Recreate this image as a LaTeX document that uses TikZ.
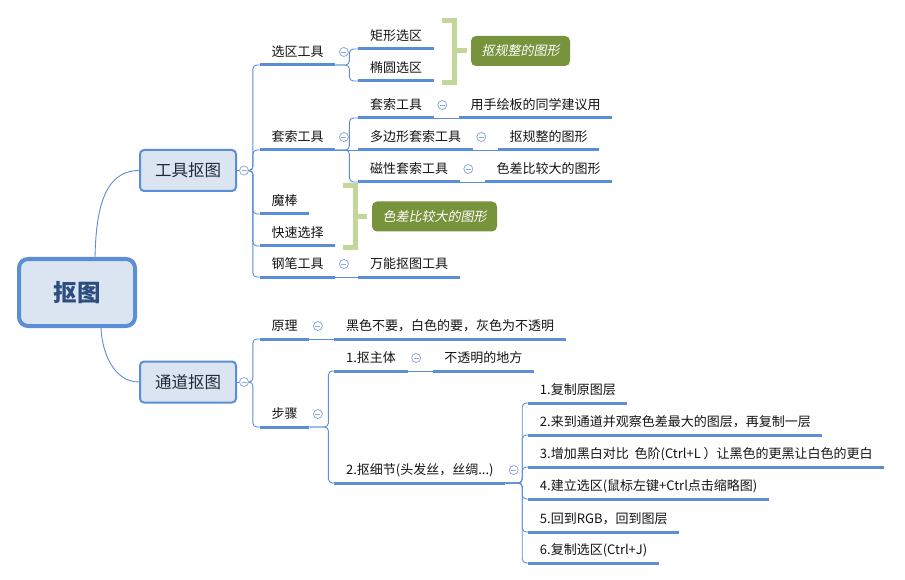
\documentclass[tikz,border=0pt]{standalone}
\usepackage{fontspec}
\setmainfont{Noto Sans CJK SC}
\newfontfamily\slantcjk[FakeSlant=0.2]{Noto Sans CJK SC}
\usetikzlibrary{positioning}

\definecolor{lineblue}{HTML}{5B8ED6}
\definecolor{boxfill}{HTML}{DBE5F1}
\definecolor{foldblue}{HTML}{8FAADC}
\definecolor{bracegreen}{HTML}{C4D79B}
\definecolor{labelgreen}{HTML}{77933C}
\definecolor{roottext}{HTML}{2C4D7F}
\definecolor{maintext}{HTML}{1F2A3C}
\definecolor{topictext}{HTML}{141414}

\begin{document}
\begin{tikzpicture}[
    x=1pt, y=-1pt, % pixel-like units, y grows downwards
    rootbox/.style={draw=lineblue, line width=4pt, fill=boxfill, rounded corners=9pt,
        minimum width=116pt, minimum height=67pt, text=roottext,
        font=\fontsize{23.5pt}{28pt}\selectfont\bfseries},
    mainbox/.style={draw=lineblue, line width=2pt, fill=boxfill, rounded corners=4pt,
        minimum width=96pt, minimum height=41pt, text=maintext,
        font=\fontsize{16.5pt}{20pt}\selectfont},
    topic/.style={anchor=south west, inner xsep=11.5pt, inner ysep=5pt,
        text height=11pt, text depth=3pt, text=topictext,
        font=\fontsize{13pt}{15pt}\selectfont},
    summary/.style={fill=labelgreen, rounded corners=5pt, minimum height=30pt,
        text=white, font=\fontsize{13pt}{15pt}\slantcjk},
    fold/.style={circle, draw=foldblue, line width=0.8pt, fill=white, minimum size=9pt,
        inner sep=0pt, path picture={\draw[foldblue, line width=0.8pt]
        ([xshift=-2.5pt]path picture bounding box.center) --
        ([xshift=2.5pt]path picture bounding box.center);}},
    uline/.style={draw=lineblue, line width=3pt},
    branch/.style={draw=lineblue, line width=0.9pt, rounded corners=4pt},
    brace/.style={draw=bracegreen, line width=5pt},
]

% Canvas
\path[fill=white] (0,0) rectangle (905,580);

% Collapse mark next to a topic
\newcommand{\foldmark}[1]{\node[fold] (#1fold) at ([xshift=8.5pt,yshift=13pt]#1.south east) {};}

% Central topic and the two main branches
\node[rootbox] (root) at (77,292.5) {抠图};
\node[mainbox] (tools) at (188,170.5) {工具抠图};
\node[mainbox] (channels) at (188,382) {通道抠图};

% Tools branch
\node[topic] (selection) at (260,65) {选区工具};
\node[topic] (lasso) at (260,150) {套索工具};
\node[topic] (wand) at (260,214) {魔棒};
\node[topic] (quicksel) at (260,246) {快速选择};
\node[topic] (pen) at (260,277) {钢笔工具};

\node[topic, right=23pt of selection, yshift=16pt] (rect) {矩形选区};
\node[topic, right=23pt of selection, yshift=-16pt] (ellipse) {椭圆选区};
\node[topic, right=23pt of lasso, yshift=32pt] (freelasso) {套索工具};
\node[topic, right=23pt of lasso] (polylasso) {多边形套索工具};
\node[topic, right=23pt of lasso, yshift=-32pt] (maglasso) {磁性套索工具};
\node[topic, right=23pt of pen] (allround) {万能抠图工具};

\node[topic, right=25pt of freelasso] (tablet) {用手绘板的同学建议用};
\node[topic, right=25pt of polylasso] (regular) {抠规整的图形};
\node[topic, right=25pt of maglasso] (contrast) {色差比较大的图形};

% Channels branch
\node[topic] (principle) at (260,339) {原理};
\node[topic] (steps) at (260,427) {步骤};

\node[topic, right=25pt of principle] (bwgray) {黑色不要，白色的要，灰色为不透明};
\node[topic, right=25pt of steps, yshift=56pt] (mainbody) {1.抠主体};
\node[topic, right=25pt of steps, yshift=-56pt] (details) {2.抠细节(头发丝，丝绸...)};
\node[topic, right=25pt of mainbody] (opaque) {不透明的地方};

\node[topic, right=23pt of details, yshift=80pt] (stepone) {1.复制原图层};
\node[topic, right=23pt of details, yshift=48pt] (steptwo) {2.来到通道并观察色差最大的图层，再复制一层};
\node[topic, right=23pt of details, yshift=16pt] (stepthree) {3.增加黑白对比\ \ 色阶(Ctrl+L ）让黑色的更黑让白色的更白};
\node[topic, right=23pt of details, yshift=-16pt] (stepfour) {4.建立选区(鼠标左键+Ctrl点击缩略图)};
\node[topic, right=23pt of details, yshift=-49pt] (stepfive) {5.回到RGB，回到图层};
\node[topic, right=23pt of details, yshift=-80pt] (stepsix) {6.复制选区(Ctrl+J)};

% Underlines of the topics
\foreach \n in {selection, lasso, wand, quicksel, pen, rect, ellipse, freelasso,
    polylasso, maglasso, allround, tablet, regular, contrast, principle, steps,
    bwgray, mainbody, details, opaque, stepone, steptwo, stepthree, stepfour,
    stepfive, stepsix}
    \draw[uline] (\n.south west) -- (\n.south east);

% Collapse marks
\node[fold] (toolsfold) at ([xshift=7pt]tools.east) {};
\node[fold] (channelsfold) at ([xshift=7pt]channels.east) {};
\foldmark{selection}
\foldmark{lasso}
\foldmark{pen}
\foldmark{freelasso}
\foldmark{polylasso}
\foldmark{maglasso}
\foldmark{principle}
\foldmark{steps}
\foldmark{mainbody}
\foldmark{details}

% Connections from the central topic
\draw[branch] ([xshift=18pt]root.north) .. controls +(1,-42) and +(-37,0) .. (tools.west);
\draw[branch] ([xshift=24pt]root.south) .. controls +(1,25) and +(-25,0) .. (channels.west);

% Forks
\coordinate[right=4pt of toolsfold] (toolsjoint);
\coordinate[right=4pt of channelsfold] (channelsjoint);
\coordinate[right=14pt of selection.south east] (selectionjoint);
\coordinate[right=14pt of lasso.south east] (lassojoint);
\coordinate[right=19pt of steps.south east] (stepsjoint);
\coordinate[right=17pt of details.south east] (detailsjoint);

\draw[branch] (tools.east) -- (toolsfold);
\foreach \kid in {selection, lasso, wand, quicksel, pen}
    \draw[branch] (toolsfold) -- (toolsjoint) |- (\kid.south west);

\draw[branch] (channels.east) -- (channelsfold);
\foreach \kid in {principle, steps}
    \draw[branch] (channelsfold) -- (channelsjoint) |- (\kid.south west);

\foreach \kid in {rect, ellipse}
    \draw[branch] (selection.south east) -- (selectionjoint) |- (\kid.south west);

\foreach \kid in {freelasso, maglasso}
    \draw[branch] (lasso.south east) -- (lassojoint) |- (\kid.south west);
\draw[branch] (lasso.south east) -- (polylasso.south west);

\foreach \kid in {mainbody, details}
    \draw[branch] (steps.south east) -- (stepsjoint) |- (\kid.south west);

\foreach \kid in {stepone, steptwo, stepthree, stepfour, stepfive, stepsix}
    \draw[branch] (details.south east) -- (detailsjoint) |- (\kid.south west);

% Single children
\draw[branch] (pen.south east) -- (allround.south west);
\draw[branch] (freelasso.south east) -- (tablet.south west);
\draw[branch] (polylasso.south east) -- (regular.south west);
\draw[branch] (maglasso.south east) -- (contrast.south west);
\draw[branch] (principle.south east) -- (bwgray.south west);
\draw[branch] (mainbody.south east) -- (opaque.south west);

% Summaries
\node[summary, minimum width=99pt] (sumregular) at (520.5,51) {抠规整的图形};
\node[summary, minimum width=125pt] (sumcontrast) at (434.5,216.5) {色差比较大的图形};

\draw[brace] (442,20.5) -| (454.5,82.5) -- (442,82.5);
\coordinate (braceone) at (454.5,51);
\draw[brace, shorten >=4pt] (braceone) -- (sumregular);

\draw[brace] (343,185.5) -| (355.5,247.5) -- (343,247.5);
\coordinate (bracetwo) at (355.5,216.5);
\draw[brace, shorten >=5pt] (bracetwo) -- (sumcontrast);

\end{tikzpicture}
\end{document}
